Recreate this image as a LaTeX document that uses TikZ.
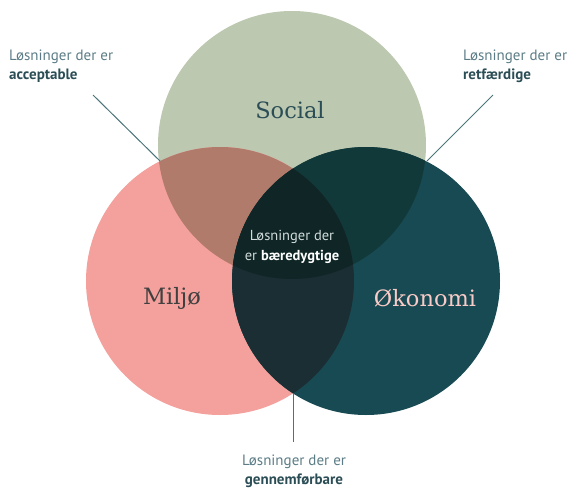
\documentclass[tikz,border=0pt]{standalone}
\usepackage{fontspec}
\setmainfont{PT Sans}
\newfontfamily\circlefont{DejaVu Serif}
\definecolor{sage}{HTML}{BCC8B0}
\definecolor{salmon}{HTML}{F4A09C}
\definecolor{petrol}{HTML}{174A52}
\definecolor{rosebrown}{HTML}{B17B6C}
\definecolor{deeppetrol}{HTML}{12393A}
\definecolor{slate}{HTML}{1B2E33}
\definecolor{core}{HTML}{102626}
\definecolor{labelgrey}{HTML}{5B7C86}
\definecolor{labeldark}{HTML}{2B4D55}
\definecolor{pointergrey}{HTML}{4A7479}
\begin{document}
\begin{tikzpicture}[x=1pt,y=-1pt,
    answer/.style={font=\fontsize{15}{19}\selectfont,text=labelgrey,inner sep=0pt},
    sphere/.style={font=\circlefont\fontsize{22.5}{26}\selectfont},
    pointer/.style={draw=pointergrey,line width=1pt}]
  \useasboundingbox (0,0) rectangle (571,488);

  \fill[sage] (292,145) circle [radius=134pt];
  \fill[salmon] (220,281) circle [radius=134pt];
  \fill[petrol] (366,281) circle [radius=134pt];

  \begin{scope}
    \clip (292,145) circle [radius=134pt];
    \fill[rosebrown] (220,281) circle [radius=134pt];
    \fill[deeppetrol] (366,281) circle [radius=134pt];
  \end{scope}
  \begin{scope}
    \clip (220,281) circle [radius=134pt];
    \fill[slate] (366,281) circle [radius=134pt];
  \end{scope}
  \begin{scope}
    \clip (292,145) circle [radius=134pt];
    \clip (220,281) circle [radius=134pt];
    \fill[core] (366,281) circle [radius=134pt];
  \end{scope}

  \node[sphere,text=labeldark] (social) at (290,110) {Social};
  \node[sphere,text=black!75] (miljo) at (172,298) {Miljø};
  \node[sphere,text=salmon!55!white] (okonomi) at (425,298) {Økonomi};

  \node[answer,align=center,text=white!80!petrol,font=\fontsize{14.5}{20}\selectfont] (baere) at (292,247)
    {Løsninger der\\er \textbf{\color{white}bæredygtige}};

  \node[answer,align=left,anchor=north west] (accept) at (9,50)
    {Løsninger der er\\\textbf{\color{labeldark}acceptable}};
  \coordinate (acceptend) at (93,95);
  \coordinate (socmil) at (160,161);
  \draw[pointer] (acceptend) -- (socmil);

  \node[answer,align=left,anchor=north west] (ret) at (463,50)
    {Løsninger der er\\\textbf{\color{labeldark}retfærdige}};
  \coordinate (retend) at (493,95);
  \coordinate (socoko) at (427,161);
  \draw[pointer] (retend) -- (socoko);

  \node[answer,align=center,anchor=north] (gennem) at (294,455)
    {Løsninger der er\\\textbf{\color{labeldark}gennemførbare}};
  \coordinate (milok) at (293,394);
  \coordinate (gennemend) at (293,442);
  \draw[pointer] (milok) -- (gennemend);
\end{tikzpicture}
\end{document}
